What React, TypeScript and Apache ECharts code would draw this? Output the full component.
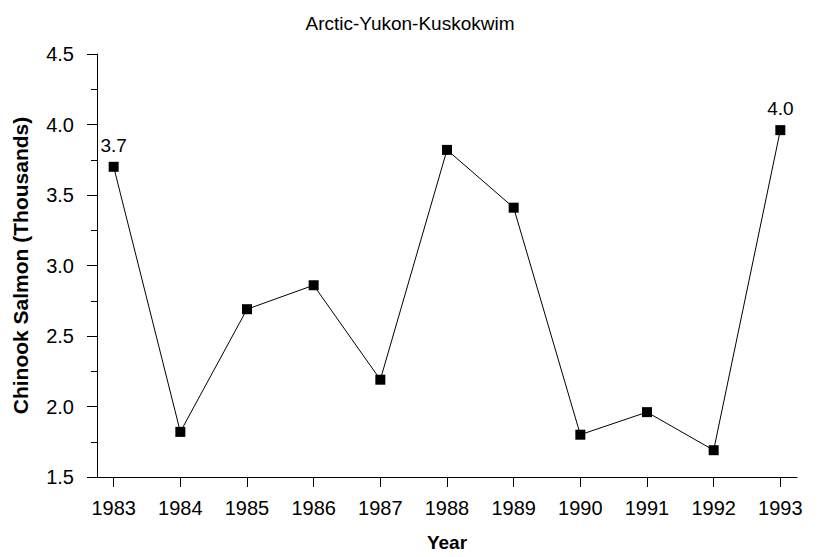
import React, { useEffect, useRef } from "react";
import * as echarts from "echarts";

const years = [1983, 1984, 1985, 1986, 1987, 1988, 1989, 1990, 1991, 1992, 1993];
const salmon = [3.7, 1.82, 2.69, 2.86, 2.19, 3.82, 3.41, 1.8, 1.96, 1.69, 3.96];
const labelledYears = [1983, 1993];
const labelText = ["3.7", "4.0"];
const yTicks = [1.5, 2.0, 2.5, 3.0, 3.5, 4.0, 4.5];

const FONT = "Liberation Sans, Arial, sans-serif";

export default function App() {
  const ref = useRef<HTMLDivElement>(null);
  useEffect(() => {
    document.body.style.margin = "0";
    if (!ref.current) return;
    const chart = echarts.init(ref.current, null, { renderer: "svg" });
    const data = years.map((y, i) => {
      const li = labelledYears.indexOf(y);
      return {
        value: [y, salmon[i]],
        label: li >= 0 ? { show: true, formatter: labelText[li] } : { show: false },
      };
    });
    chart.setOption({
      animation: false,
      backgroundColor: "#ffffff",
      title: {
        text: "Arctic-Yukon-Kuskokwim",
        left: "center",
        top: 9,
        textStyle: { fontFamily: FONT, fontSize: 19, fontWeight: "normal", color: "#000" },
      },
      grid: { left: 97, right: 23, top: 54, bottom: 74 },
      xAxis: {
        type: "value",
        min: 1982.75,
        max: 1993.25,
        name: "Year",
        nameLocation: "middle",
        nameGap: 56,
        nameTextStyle: { fontFamily: FONT, fontSize: 19, fontWeight: "bold", color: "#000" },
        axisLine: { show: true, onZero: false, lineStyle: { color: "#000", width: 1 } },
        axisTick: { show: true, length: 10, customValues: years, lineStyle: { color: "#000" } },
        axisLabel: {
          customValues: years,
          formatter: (v: number) => String(Math.round(v)),
          fontFamily: FONT,
          fontSize: 20,
          color: "#000",
          margin: 21,
        },
        splitLine: { show: false },
      },
      yAxis: {
        type: "value",
        min: 1.5,
        max: 4.5,
        interval: 0.5,
        name: "Chinook Salmon (Thousands)",
        nameLocation: "middle",
        nameGap: 66,
        nameTextStyle: { fontFamily: FONT, fontSize: 21, fontWeight: "bold", color: "#000" },
        axisLine: { show: true, lineStyle: { color: "#000", width: 1 } },
        axisTick: { show: true, length: 10, lineStyle: { color: "#000" } },
        minorTick: { show: true, splitNumber: 2, length: 6, lineStyle: { color: "#000" } },
        axisLabel: {
          formatter: (v: number) => (yTicks.some((t) => Math.abs(t - v) < 1e-6) ? v.toFixed(1) : ""),
          fontFamily: FONT,
          fontSize: 20,
          color: "#000",
          margin: 23,
        },
        splitLine: { show: false },
      },
      series: [
        {
          type: "line",
          data,
          symbol: "rect",
          symbolSize: 10,
          itemStyle: { color: "#000" },
          lineStyle: { color: "#000", width: 1 },
          label: {
            position: "top",
            distance: 7,
            fontFamily: FONT,
            fontSize: 19,
            color: "#000",
          },
        },
      ],
    });
    return () => chart.dispose();
  }, []);
  return <div ref={ref} style={{ width: 820, height: 557 }} />;
}
